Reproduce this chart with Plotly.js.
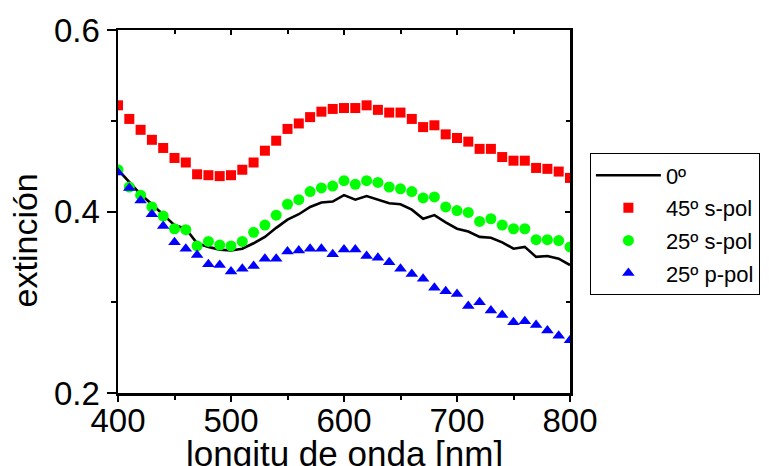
<!DOCTYPE html>
<html>
<head>
<meta charset="utf-8">
<script src="https://cdn.plot.ly/plotly-3.0.1.min.js"></script>
<style>html,body{margin:0;padding:0;background:#fff;}#chart{width:769px;height:466px;}</style>
</head>
<body>
<div id="chart"></div>
<script>
const wavelength = [400,410,420,430,440,450,460,470,480,490,500,510,520,530,540,550,560,570,580,590,600,610,620,630,640,650,660,670,680,690,700,710,720,730,740,750,760,770,780,790,800];
const ext0 = [0.446,0.433,0.419,0.408,0.396,0.385,0.381,0.365,0.361,0.358,0.357,0.359,0.365,0.372,0.382,0.391,0.397,0.405,0.410,0.411,0.418,0.413,0.417,0.413,0.409,0.408,0.402,0.392,0.396,0.388,0.381,0.378,0.372,0.371,0.366,0.359,0.361,0.350,0.351,0.348,0.341];
const ext45s = [0.517,0.502,0.490,0.479,0.470,0.459,0.454,0.441,0.440,0.439,0.440,0.446,0.454,0.467,0.478,0.491,0.497,0.504,0.510,0.513,0.514,0.514,0.517,0.512,0.509,0.509,0.502,0.493,0.495,0.485,0.481,0.477,0.469,0.469,0.460,0.456,0.456,0.448,0.447,0.444,0.437];
const ext25s = [0.446,0.427,0.418,0.405,0.395,0.381,0.380,0.362,0.367,0.363,0.362,0.367,0.377,0.385,0.396,0.408,0.413,0.422,0.426,0.428,0.434,0.430,0.434,0.432,0.427,0.425,0.422,0.415,0.416,0.405,0.401,0.399,0.389,0.392,0.385,0.381,0.381,0.369,0.369,0.368,0.361];
const ext25p = [0.443,0.426,0.412,0.397,0.384,0.366,0.359,0.352,0.342,0.341,0.334,0.337,0.340,0.348,0.348,0.356,0.357,0.359,0.359,0.353,0.358,0.358,0.351,0.349,0.344,0.337,0.331,0.326,0.316,0.312,0.309,0.296,0.300,0.291,0.286,0.278,0.279,0.275,0.269,0.263,0.258];
const names = ["0º","45º s-pol","25º s-pol","25º p-pol"];
const xTickVals = [400,500,600,700,800];
const yTickVals = [0.2,0.4,0.6];
const xTitle = "longitu de onda [nm]";
const yTitle = "extinción";

const FONT = "Liberation Sans, Arial, sans-serif";
const traces = [
  {x: wavelength, y: ext0, name: names[0], legendgroup: "a", mode: "lines", line: {color: "#000", width: 2.6}},
  {x: wavelength, y: ext45s, name: names[1], legendgroup: "b", mode: "markers", marker: {symbol: "square", color: "#ff0000", size: 10}},
  {x: wavelength, y: ext25s, name: names[2], legendgroup: "c", mode: "markers", marker: {symbol: "circle", color: "#00ff00", size: 11}},
  {x: wavelength, y: ext25p, name: names[3], legendgroup: "d", mode: "markers", marker: {symbol: "triangle-up", color: "#0000ff", size: 11}},
  {x: [], y: [], xaxis: "x2", yaxis: "y2", showlegend: false, hoverinfo: "skip"}
];
const layout = {
  width: 769, height: 466,
  margin: {l: 118, r: 199, t: 30, b: 73, autoexpand: false},
  paper_bgcolor: "#fff", plot_bgcolor: "#fff",
  font: {family: FONT, color: "#000"},
  showlegend: true,
  xaxis: {
    range: [400, 800], tickvals: xTickVals, ticktext: xTickVals.map(String),
    ticks: "outside", ticklen: 6, tickwidth: 2, tickcolor: "#000", ticklabelstandoff: -9,
    minor: {dtick: 50, ticks: "outside", ticklen: 4, tickwidth: 2, tickcolor: "#000"},
    showline: true, linecolor: "#000", linewidth: 2.5, showgrid: false, zeroline: false,
    tickfont: {size: 33, family: FONT}, fixedrange: true
  },
  yaxis: {
    range: [0.2, 0.6], tickvals: yTickVals, ticktext: ["0.2","0.4","0.6"],
    ticks: "outside", ticklen: 9, tickwidth: 2, tickcolor: "#000",
    minor: {dtick: 0.1, ticks: "outside", ticklen: 5, tickwidth: 2, tickcolor: "#000"},
    showline: true, linecolor: "#000", linewidth: 2.5, showgrid: false, zeroline: false,
    tickfont: {size: 33, family: FONT}, fixedrange: true
  },
  xaxis2: {
    overlaying: "x", side: "top", anchor: "y2", range: [400, 800], tickvals: xTickVals,
    ticks: "inside", ticklen: 5, tickwidth: 2, tickcolor: "#000", showticklabels: false,
    minor: {dtick: 50, ticks: "inside", ticklen: 4, tickwidth: 2, tickcolor: "#000"},
    showline: true, linecolor: "#000", linewidth: 2.5, showgrid: false, zeroline: false
  },
  yaxis2: {
    overlaying: "y", side: "right", anchor: "x2", range: [0.2, 0.6], tickvals: yTickVals,
    ticks: "inside", ticklen: 5, tickwidth: 2, tickcolor: "#000", showticklabels: false,
    minor: {dtick: 0.1, ticks: "inside", ticklen: 4, tickwidth: 2, tickcolor: "#000"},
    showline: true, linecolor: "#000", linewidth: 2.5, showgrid: false, zeroline: false
  },
  legend: {
    x: 1.044, y: 0.66, xanchor: "left", yanchor: "top",
    bordercolor: "#000", borderwidth: 1, bgcolor: "#fff",
    font: {size: 22, family: FONT}, itemwidth: 65, traceorder: "grouped", tracegroupgap: 1
  },
  annotations: [
    {text: xTitle, xref: "paper", yref: "paper", x: 0.5, y: -0.107, xanchor: "center", yanchor: "top",
     showarrow: false, font: {size: 35, family: FONT}},
    {text: yTitle, xref: "paper", yref: "paper", x: -0.206, y: 0.42, xanchor: "center", yanchor: "middle",
     textangle: -90, showarrow: false, font: {size: 34, family: FONT}}
  ]
};
Plotly.newPlot("chart", traces, layout, {displayModeBar: false, staticPlot: true});
</script>
</body>
</html>
